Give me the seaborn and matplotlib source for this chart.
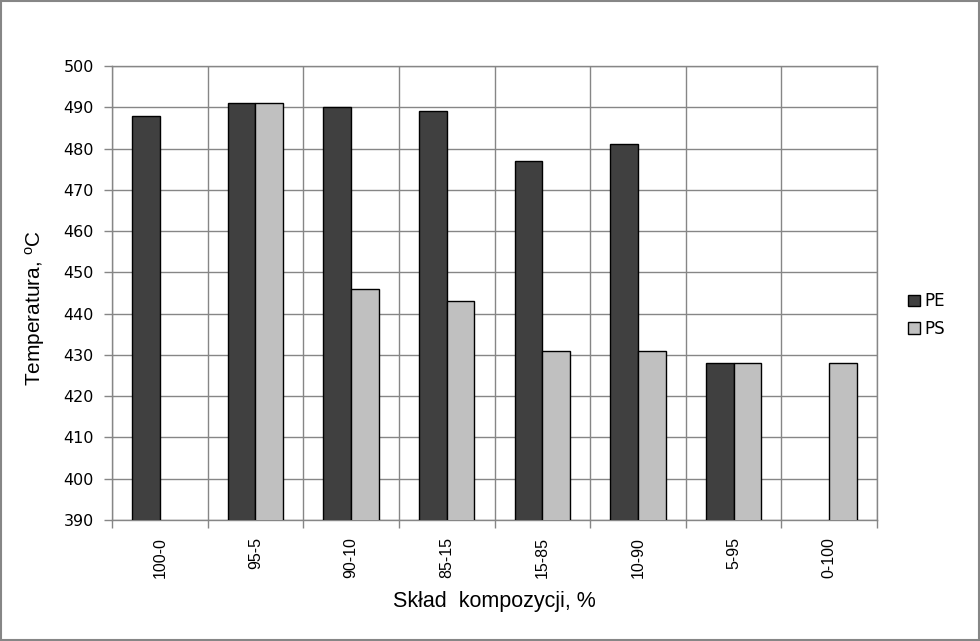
import numpy as np
import pandas as pd
import seaborn as sns
import matplotlib
matplotlib.use("Agg")
import matplotlib.pyplot as plt
from matplotlib.patches import Rectangle
from matplotlib.ticker import FixedLocator, MultipleLocator

categories = ["100-0", "95-5", "90-10", "85-15", "15-85", "10-90", "5-95", "0-100"]
pe_values = [488, 491, 490, 489, 477, 481, 428, np.nan]
ps_values = [np.nan, 491, 446, 443, 431, 431, 428, 428]
series_names = ["PE", "PS"]
colors = {"PE": "#404040", "PS": "#c0c0c0"}

df = pd.DataFrame({
    "cat": categories * 2,
    "val": pe_values + ps_values,
    "series": ["PE"] * len(categories) + ["PS"] * len(categories),
})

sns.set_style("white")
plt.rcParams["font.family"] = ["DejaVu Sans"]
plt.rcParams["text.color"] = "black"
plt.rcParams["axes.labelcolor"] = "black"
plt.rcParams["xtick.color"] = "black"
plt.rcParams["ytick.color"] = "black"
plt.rcParams["mathtext.fontset"] = "custom"
plt.rcParams["mathtext.rm"] = "Liberation Sans"
plt.rcParams["mathtext.it"] = "Liberation Sans"

fig = plt.figure(figsize=(9.8, 6.41), dpi=100)
W, H = 980, 641
L, R, T, B = 112, 877, 66, 520
ax = fig.add_axes([L / W, 1 - B / H, (R - L) / W, (B - T) / H])

sns.barplot(data=df, x="cat", y="val", hue="series", hue_order=series_names,
            order=categories, palette=colors, width=0.58, saturation=1,
            edgecolor="black", linewidth=1, ax=ax, zorder=3, errorbar=None)

grid_c = "#868686"
ax.set_ylim(390, 500)
ax.set_xlim(-0.5, len(categories) - 0.5)
ax.yaxis.set_major_locator(MultipleLocator(10))
ax.xaxis.set_minor_locator(FixedLocator(np.arange(-0.5, len(categories), 1.0)))
ax.grid(False)
ax.yaxis.grid(True, which="major", color=grid_c, linewidth=1, zorder=0)
ax.xaxis.grid(True, which="minor", color=grid_c, linewidth=1, zorder=0)
ax.set_axisbelow(True)
for s in ax.spines.values():
    s.set_color(grid_c)
    s.set_linewidth(1)

ax.tick_params(axis="x", which="major", length=0, pad=12, labelcolor="black")
ax.tick_params(axis="x", which="minor", length=6, color=grid_c, width=1, direction="out", bottom=True)
ax.tick_params(axis="y", which="major", length=6, color=grid_c, width=1, direction="out", left=True, pad=7,
               labelsize=11.5, labelcolor="black")
ax.set_xticks(range(len(categories)))
ax.set_xticklabels(categories, rotation=90, fontsize=11.5, family="Liberation Sans", va="top")
for lab in ax.get_yticklabels():
    lab.set_family("DejaVu Sans")

ax.set_xlabel("Skład  kompozycji, %", fontsize=15.5, family="Liberation Sans", color="black")
ax.xaxis.set_label_coords(0.5, (B - 601) / (B - T))
ax.xaxis.label.set_va("center")
ax.set_ylabel("Temperatura, $^{\\mathrm{o}}$C", fontsize=15, family="Liberation Sans", color="black")
ax.yaxis.set_label_coords((35 - L) / (R - L), (B - 308) / (B - T))
ax.yaxis.label.set_va("center")

handles, labels = ax.get_legend_handles_labels()
if ax.get_legend() is not None:
    ax.get_legend().remove()
leg = fig.legend(handles, labels, loc="center left", bbox_to_anchor=(893 / W, 1 - 315 / H),
                 frameon=False, handlelength=0.7, handleheight=0.7, handletextpad=0.3,
                 labelspacing=0.55, prop={"family": "DejaVu Sans", "size": 12})
for t in leg.get_texts():
    t.set_color("black")

fig.patches.append(Rectangle((0.0008, 0.0012), 0.998, 0.997, transform=fig.transFigure,
                             fill=False, edgecolor=grid_c, linewidth=1.5))

fig.savefig("out.png", dpi=100, facecolor="white")
